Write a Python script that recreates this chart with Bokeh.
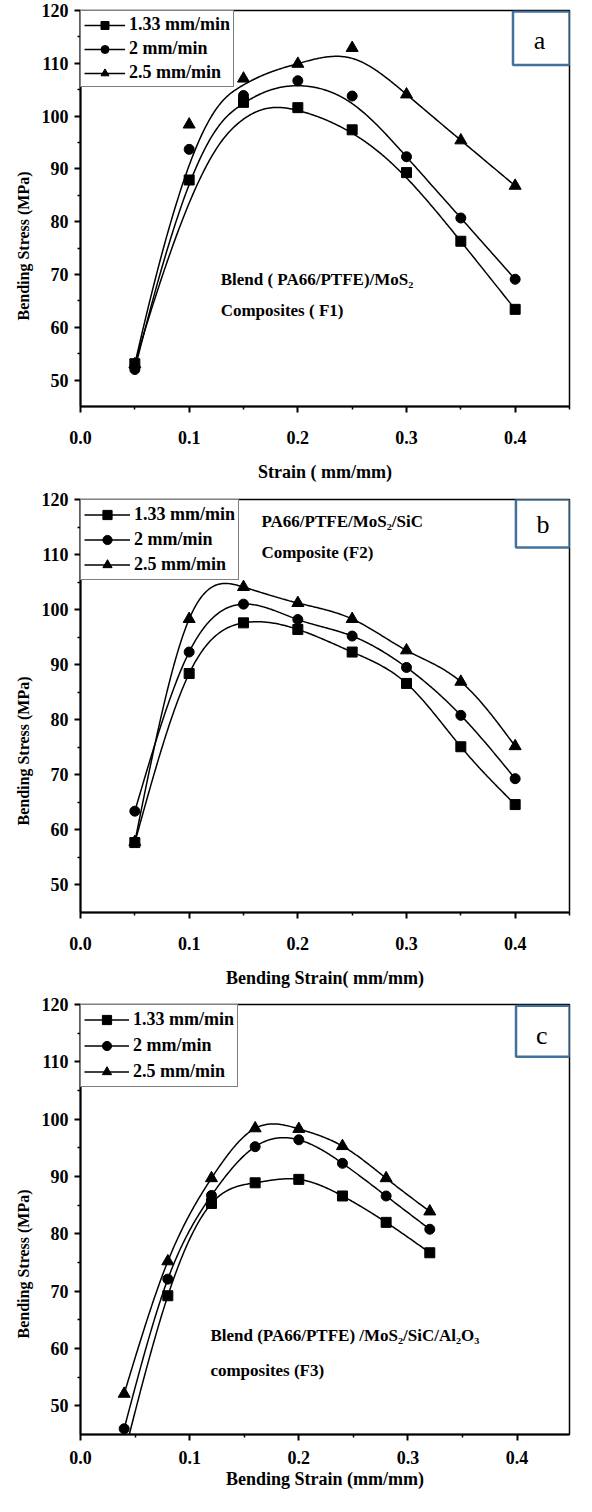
import numpy as np
from bokeh.plotting import figure
from bokeh.layouts import column
from bokeh.models import (Legend, LegendItem, Label, BoxAnnotation, FixedTicker,
                          PrintfTickFormatter, Range1d, Title)
from bokeh.embed import file_html
from bokeh.resources import INLINE

# ---------------- data ----------------
series_labels = ["1.33 mm/min", "2 mm/min", "2.5 mm/min"]

strain_f1 = [0.05, 0.10, 0.15, 0.20, 0.25, 0.30, 0.35, 0.40]
f1_133 = [53.1, 87.9, 102.6, 101.6, 97.4, 89.3, 76.3, 63.4]
f1_2 = [52.0, 93.7, 103.9, 106.7, 103.8, 92.3, 80.7, 69.1]
f1_25 = [53.0, 98.4, 107.1, 109.9, 112.9, 104.1, 95.4, 86.8]

strain_f2 = [0.05, 0.10, 0.15, 0.20, 0.25, 0.30, 0.35, 0.40]
f2_133 = [57.7, 88.4, 97.6, 96.4, 92.3, 86.6, 75.1, 64.6]
f2_2 = [63.4, 92.3, 101.0, 98.2, 95.2, 89.5, 80.8, 69.3]
f2_25 = [57.8, 98.3, 104.1, 101.2, 98.3, 92.6, 86.9, 75.2]

strain_f3 = [0.04, 0.08, 0.12, 0.16, 0.20, 0.24, 0.28, 0.32]
f3_133 = [41.5, 69.2, 85.3, 88.9, 89.5, 86.6, 82.0, 76.7]
f3_2 = [46.0, 72.1, 86.7, 95.2, 96.4, 92.3, 86.6, 80.8]
f3_25 = [52.1, 75.2, 89.7, 98.4, 98.3, 95.3, 89.7, 83.9]

x_ticks = [0.0, 0.1, 0.2, 0.3, 0.4]
x_minor = [0.05, 0.15, 0.25, 0.35, 0.45]
y_ticks = [50, 60, 70, 80, 90, 100, 110, 120]
y_minor = [55, 65, 75, 85, 95, 105, 115]

FONT = "Liberation Serif"
BOX_BLUE = "#41719C"
MARKERS = ["square", "circle", "triangle"]
MSIZE = [10, 10, 12]


# ---------------- curve helpers ----------------
def bspline_curve(xs, ys, n=300):
    """Clamped cubic B-spline using the data points as control points."""
    P = np.column_stack([xs, ys]).astype(float)
    k = 3
    m = len(P)
    knots = np.concatenate([np.zeros(k), np.linspace(0, 1, m - k + 1), np.ones(k)])
    t = np.linspace(0, 1, n, endpoint=False)

    def N(i, kk):
        if kk == 0:
            return np.where((knots[i] <= t) & (t < knots[i + 1]), 1.0, 0.0)
        out = np.zeros_like(t)
        d1 = knots[i + kk] - knots[i]
        if d1 > 0:
            out += (t - knots[i]) / d1 * N(i, kk - 1)
        d2 = knots[i + kk + 1] - knots[i + 1]
        if d2 > 0:
            out += (knots[i + kk + 1] - t) / d2 * N(i + 1, kk - 1)
        return out

    B = np.column_stack([N(i, k) for i in range(m)])
    C = B @ P
    C = np.vstack([C, P[-1]])
    return C[:, 0], C[:, 1]


def natural_spline(xs, ys, n=300):
    x = np.asarray(xs, float)
    y = np.asarray(ys, float)
    Np = len(x)
    h = np.diff(x)
    A = np.zeros((Np, Np))
    r = np.zeros(Np)
    A[0, 0] = 1
    A[-1, -1] = 1
    for i in range(1, Np - 1):
        A[i, i - 1] = h[i - 1]
        A[i, i] = 2 * (h[i - 1] + h[i])
        A[i, i + 1] = h[i]
        r[i] = 3 * ((y[i + 1] - y[i]) / h[i] - (y[i] - y[i - 1]) / h[i - 1])
    c = np.linalg.solve(A, r)
    b = (y[1:] - y[:-1]) / h - h * (2 * c[:-1] + c[1:]) / 3
    d = (c[1:] - c[:-1]) / (3 * h)
    xx = np.linspace(x[0], x[-1], n)
    idx = np.clip(np.searchsorted(x, xx) - 1, 0, Np - 2)
    dx = xx - x[idx]
    yy = y[idx] + b[idx] * dx + c[idx] * dx ** 2 + d[idx] * dx ** 3
    return xx, yy


# ---------------- panel builder ----------------
def panel(strain, series, curve, width, height, borders, xmax, xlabel,
          legend_cfg, notes, box, letter, letter_pos, ylab_offset, standoffs):
    bl, br, bt, bb = borders
    tick_standoff, xlab_standoff = standoffs
    p = figure(width=width, height=height, output_backend="svg", toolbar_location=None,
               x_range=Range1d(0, xmax), y_range=Range1d(45, 120),
               min_border_left=bl, min_border_right=br, min_border_top=bt,
               min_border_bottom=bb)
    p.background_fill_color = "white"
    p.border_fill_color = "white"
    p.xgrid.visible = False
    p.ygrid.visible = False
    p.outline_line_color = "black"
    p.outline_line_width = 1.5

    for ax in (p.xaxis[0], p.yaxis[0]):
        ax.axis_line_width = 2
        ax.major_tick_line_width = 2
        ax.minor_tick_line_width = 1.5
        ax.major_tick_in = 0
        ax.major_tick_out = 6
        ax.minor_tick_in = 0
        ax.minor_tick_out = 3
        ax.major_label_text_font = FONT
        ax.major_label_text_font_style = "bold"
        ax.major_label_text_font_size = "18px"
        ax.major_label_text_color = "black"
        ax.axis_label_text_font = FONT
        ax.axis_label_text_font_style = "bold"
        ax.axis_label_text_font_size = "18px"
        ax.axis_label_text_color = "black"

    p.xaxis.ticker = FixedTicker(ticks=x_ticks, minor_ticks=x_minor)
    p.xaxis.formatter = PrintfTickFormatter(format="%.1f")
    p.xaxis.major_label_standoff = tick_standoff
    p.xaxis.axis_label = xlabel
    p.xaxis.axis_label_standoff = xlab_standoff
    p.yaxis.ticker = FixedTicker(ticks=y_ticks, minor_ticks=y_minor)
    p.yaxis.formatter = PrintfTickFormatter(format="%d")
    p.yaxis.major_label_standoff = 6

    items = []
    for lab, ys, mk, ms in zip(series_labels, series, MARKERS, MSIZE):
        cx, cy = curve(strain, ys)
        lr = p.line(cx, cy, line_color="black", line_width=1.5)
        mr = p.scatter(strain, ys, marker=mk, size=ms, fill_color="black",
                       line_color="black")
        items.append(LegendItem(label=lab, renderers=[lr, mr]))

    pad, gw, gh, sp, fs = legend_cfg
    leg = Legend(items=items, location="top_left", margin=0, padding=pad,
                 spacing=sp, glyph_width=gw, glyph_height=gh, label_height=gh,
                 label_standoff=4, label_text_font=FONT, label_text_font_style="bold",
                 label_text_font_size=fs, label_text_color="black",
                 border_line_color="black", border_line_width=1,
                 background_fill_color="white", background_fill_alpha=1)
    p.add_layout(leg)

    for (tx, ty, txt) in notes:
        p.add_layout(Label(x=tx, y=ty, text=txt, text_font=FONT, text_font_style="bold",
                           text_font_size="17px", text_color="black",
                           text_align="left", text_baseline="middle"))

    l, r, t, b = box
    p.add_layout(BoxAnnotation(left=l, right=r, top=t, bottom=b, fill_color="white",
                               fill_alpha=1, line_color=BOX_BLUE, line_width=2.5,
                               line_alpha=1))
    p.add_layout(Label(x=letter_pos[0], y=letter_pos[1], text=letter, text_font=FONT,
                       text_font_size="26px", text_color="black", text_align="center",
                       text_baseline="middle"))

    p.add_layout(Title(text="Bending Stress (MPa)", align="left", offset=ylab_offset,
                       text_font=FONT, text_font_style="bold", text_font_size="16px",
                       text_color="black", standoff=14), "left")
    return p


pa = panel(strain_f1, [f1_133, f1_2, f1_25], bspline_curve, 584, 490, (77, 15, 10, 84), 0.45,
           "Strain ( mm/mm)", (3, 41, 20, 3, "18px"),
           [(0.129, 69.0, "Blend ( PA66/PTFE)/MoS\u2082"),
            (0.129, 63.1, "Composites ( F1)")],
           (0.398, 0.45, 119.8, 109.7), "a", (0.4225, 114.4), 86, (18, 15))

pb = panel(strain_f2, [f2_133, f2_2, f2_25], natural_spline, 584, 505, (74, 4, 9, 83), 0.45,
           "Bending Strain( mm/mm)", (3, 46, 23, 2, "18px"),
           [(0.1665, 116.0, "PA66/PTFE/MoS\u2082/SiC"),
            (0.1665, 110.3, "Composite (F2)")],
           (0.4007, 0.45, 120.0, 111.3), "b", (0.4256, 115.5), 87, (18, 15))

pc = panel(strain_f3, [f3_133, f3_2, f3_25], natural_spline, 584, 501, (80, 1, 9, 62), 0.448,
           "Bending Strain (mm/mm)", (3, 45, 23, 3, "18px"),
           [(0.119, 62.3, "Blend (PA66/PTFE) /MoS\u2082/SiC/Al\u2082O\u2083"),
            (0.119, 56.2, "composites (F3)")],
           (0.399, 0.448, 119.8, 110.9), "c", (0.4226, 114.6), 96, (10, 2))

layout = column(pa, pb, pc)
open("out.html", "w").write(file_html(layout, INLINE))
